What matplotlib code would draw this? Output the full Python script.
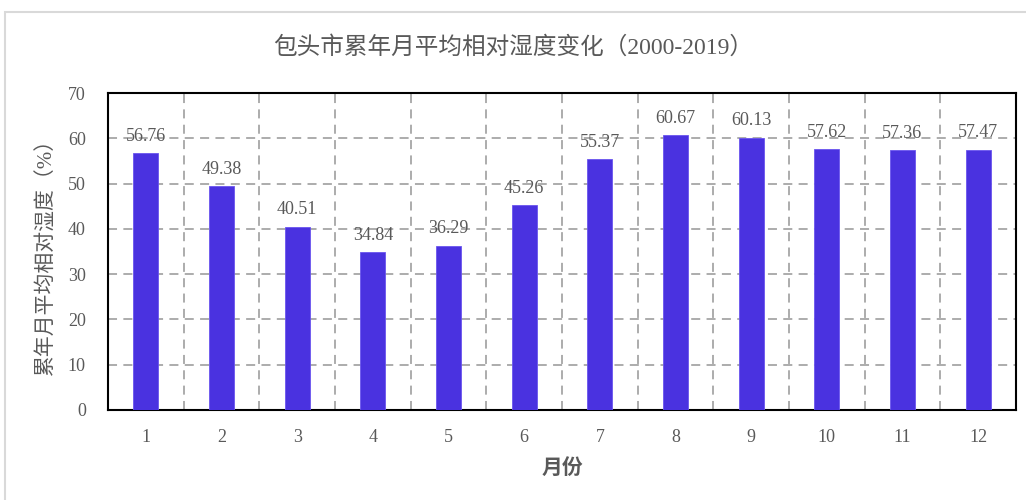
import matplotlib
matplotlib.use("Agg")
import matplotlib.pyplot as plt
from matplotlib.patches import Rectangle

plt.rcParams["font.family"] = ["Liberation Serif", "Noto Sans CJK SC"]

months = ["1", "2", "3", "4", "5", "6", "7", "8", "9", "10", "11", "12"]
humidity = [56.76, 49.38, 40.51, 34.84, 36.29, 45.26, 55.37, 60.67, 60.13, 57.62, 57.36, 57.47]
yticks = [0, 10, 20, 30, 40, 50, 60, 70]

txt = "#595959"
grid = "#a6a6a6"

fig = plt.figure(figsize=(10.26, 5), dpi=100)
fig.patches.append(Rectangle((5 / 1026, -0.1), 1.2, 0.1 + 488 / 500, transform=fig.transFigure,
                             fill=False, edgecolor="#d9d9d9", linewidth=1.5))

ax = fig.add_axes([108 / 1026, 90 / 500, 908 / 1026, 317 / 500])
x = list(range(1, len(months) + 1))
bars = ax.bar(x, humidity, width=0.33, color="#4a32e0", edgecolor="#6a55ee", linewidth=0.6, zorder=3)

# value labels above each bar
for xi, v in zip(x, humidity):
    ax.annotate(f"{v:.2f}", (xi, v), xytext=(0, 6), textcoords="offset points",
                ha="center", va="bottom", fontsize=13, color=txt, zorder=4)

ax.set_xlim(0.5, 12.5)
ax.set_ylim(0, 70)
ax.set_yticks(yticks)
ax.set_xticks(x)
ax.set_xticklabels(months)
ax.tick_params(length=0, labelsize=13, labelcolor=txt)
ax.tick_params(axis="x", pad=14)
ax.tick_params(axis="y", pad=16)

for y in yticks[1:-1]:
    ax.axhline(y, color=grid, linestyle=(0, (5, 3.5)), linewidth=1.3, zorder=1)
for xb in range(1, len(months)):
    ax.axvline(xb + 0.5, color=grid, linestyle=(0, (5, 3.5)), linewidth=1.3, zorder=1)

for s in ax.spines.values():
    s.set_color("black")
    s.set_linewidth(1.5)

ax.set_xlabel("月份", fontsize=15, fontweight="bold", color=txt, labelpad=9)
ax.set_ylabel("累年月平均相对湿度（%）", fontsize=15, color=txt, labelpad=8)
fig.text(0.5, 1 - 47 / 500, "包头市累年月平均相对湿度变化（2000-2019）", ha="center", va="center",
         fontsize=17, color=txt)

fig.savefig("out.png", dpi=100)
